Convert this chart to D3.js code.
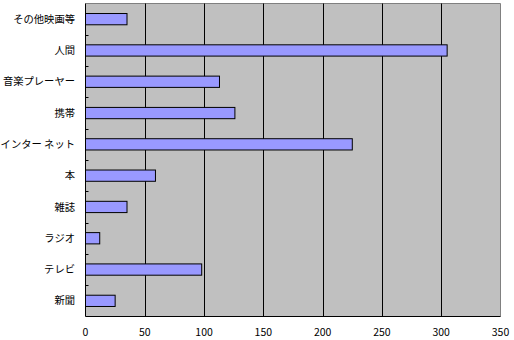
<!DOCTYPE html>
<html><head><meta charset="utf-8">
<script src="https://cdn.jsdelivr.net/npm/d3@7"></script>
<style>body{margin:0;background:#fff}svg{display:block}</style>
</head><body><svg id="c" width="514" height="340"></svg>
<script>
const categories = ["その他映画等","人間","音楽プレーヤー","携帯","インター ネット","本","雑誌","ラジオ","テレビ","新聞"];
const values = [35,305,113,126,225,59,35,12,98,25];
const xTicks = [0,50,100,150,200,250,300,350];

const svg = d3.select("#c");
const L = 85.5, R = 500.5, T = 3.5, B = 316.5;
const x = d3.scaleLinear().domain([0,350]).range([L,R]);
const y = d3.scaleBand().domain(categories).range([T,B]).paddingInner(0.64).paddingOuter(0.32);
const font = "'Noto Sans CJK JP', sans-serif";

svg.append("rect").attr("x",L).attr("y",T).attr("width",R-L).attr("height",B-T).attr("fill","#c0c0c0");
svg.append("path").attr("d",`M${L},${T}H${R}V${B}`).attr("fill","none").attr("stroke","#808080").attr("stroke-width",1);
svg.append("g").selectAll("line").data(xTicks.filter(t=>t>0&&t<350)).join("line")
  .attr("x1",d=>Math.round(x(d))+0.5).attr("x2",d=>Math.round(x(d))+0.5).attr("y1",T).attr("y2",B)
  .attr("stroke","#000").attr("stroke-width",1);
svg.append("g").selectAll("rect").data(categories).join("rect")
  .attr("x",L).attr("y",d=>y(d)).attr("height",y.bandwidth())
  .attr("width",(d,i)=>x(values[i])-L)
  .attr("fill","#9999ff").attr("stroke","#000").attr("stroke-width",1);
svg.append("path").attr("d",`M${L},${T}V${B}H${R}`).attr("fill","none").attr("stroke","#000").attr("stroke-width",1);
const step = y.step();
svg.append("g").selectAll("line").data(categories.slice(1)).join("line")
  .attr("x1",L).attr("x2",L+3)
  .attr("y1",d=>Math.round(y(d)-y.paddingInner()*step/2)+0.5)
  .attr("y2",d=>Math.round(y(d)-y.paddingInner()*step/2)+0.5)
  .attr("stroke","#000");
svg.append("g").selectAll("text").data(categories).join("text")
  .attr("x",75).attr("y",d=>y(d)+y.bandwidth()/2).attr("dy","0.35em")
  .attr("text-anchor","end").attr("font-family",font).attr("font-size",10.3).attr("fill","#000")
  .text(d=>d);
svg.append("g").selectAll("text").data(xTicks).join("text")
  .attr("x",d=>x(d)).attr("y",332).attr("dy","0.35em")
  .attr("text-anchor","middle").attr("font-family",font).attr("font-size",10.5).attr("fill","#000")
  .text(d=>d);
</script></body></html>
